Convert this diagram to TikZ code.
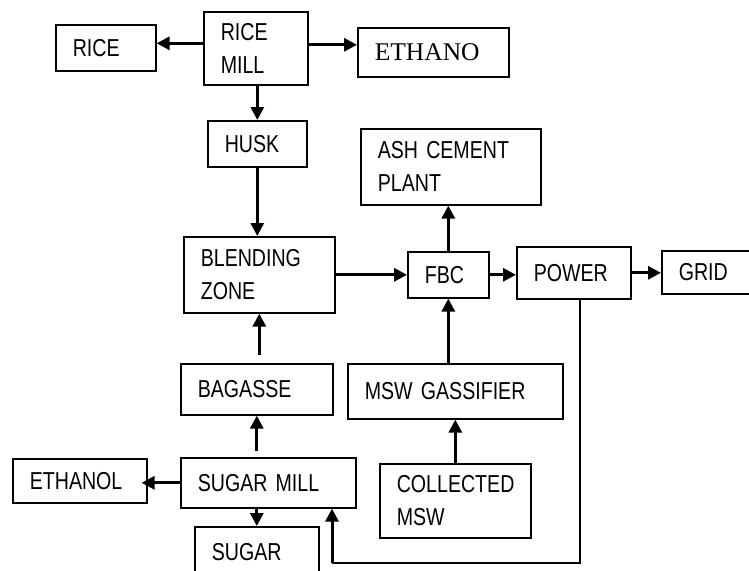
\documentclass[tikz,border=0pt]{standalone}
\usepackage{fontspec}
\setmainfont{Liberation Sans}[FakeStretch=0.8]
\newfontfamily\ethfont{Liberation Serif}
\usetikzlibrary{arrows.meta,positioning}
\tikzset{blk/.style={draw,line width=1.6pt,anchor=north west,inner xsep=17pt,inner ysep=0pt,align=left,font=\fontsize{24.5}{33}\selectfont},
  arr/.style={line width=3pt,-{Triangle[length=13pt,width=13pt]}}}

\begin{document}
\begin{tikzpicture}[x=1pt,y=-1pt]
        \useasboundingbox (0,0) rectangle (749,570);
        \clip (0,0) rectangle (749,570);

        \node[blk,text width=66pt,minimum height=46pt] (rice) at (55,24) {RICE};
        \node[blk,text width=70pt,minimum height=73pt] (ricemill) at (203,11) {RICE\\MILL};
        \node[blk,text width=117pt,minimum height=49pt,font=\ethfont\fontsize{25.5}{30}\selectfont] (ethano) at (357,27) {ETHANO};
        \node[blk,text width=65pt,minimum height=46pt] (husk) at (207,120) {HUSK};
        \node[blk,text width=146pt,minimum height=76pt] (ash) at (360,128) {ASH CEMENT\\PLANT};
        \node[blk,text width=117pt,minimum height=76pt] (blend) at (183,236) {BLENDING\\ZONE};
        \node[blk,text width=47pt,minimum height=46pt] (fbc) at (407,251) {FBC};
        \node[blk,text width=80pt,minimum height=52pt] (power) at (516,246) {POWER};
        \node[blk,text width=76pt,minimum height=43pt] (grid) at (661,250) {GRID};
        \node[blk,text width=118pt,minimum height=51pt] (bagasse) at (180,363) {BAGASSE};
        \node[blk,text width=181pt,minimum height=55pt] (gass) at (347,363) {MSW GASSIFIER};
        \node[blk,text width=141pt,minimum height=50pt] (sugarmill) at (180,457) {SUGAR MILL};
        \node[blk,text width=100pt,minimum height=44pt] (ethanol) at (12,458) {ETHANOL};
        \node[blk,text width=117pt,minimum height=74pt] (collected) at (379,463) {COLLECTED\\MSW};
        \node[blk,text width=90pt,minimum height=50pt] (sugar) at (194,526) {SUGAR};
        \coordinate (retcorner) at (332,563);

        \draw[arr] ([yshift=5pt]ricemill.west) -- ([yshift=5pt]ricemill.west -| rice.east);
        \draw[arr] ([yshift=3.5pt]ricemill.east) -- ([yshift=3.5pt]ricemill.east -| ethano.west);
        \draw[arr] (husk.north |- ricemill.south) -- (husk.north);
        \draw[arr] (husk.south) -- (husk.south |- blend.north);
        \draw[arr] (blend.east) -- (fbc.west);
        \draw[arr] (fbc.north) -- (fbc.north |- ash.south);
        \draw[arr] (fbc.east) -- (fbc.east -| power.west);
        \draw[arr] (power.east) -- (power.east -| grid.west);
        \draw[arr] (fbc.south |- gass.north) -- (fbc.south);
        \draw[arr] (collected.north) -- (collected.north |- gass.south);
        \draw[arr,shorten <=8pt] (blend.south |- bagasse.north) -- (blend.south);
        \draw[arr,shorten <=6pt] (bagasse.south |- sugarmill.north) -- (bagasse.south);
        \draw[arr,shorten >=-6pt] (sugarmill.west) -- (sugarmill.west -| ethanol.east);
        \draw[arr] (sugar.north |- sugarmill.south) -- (sugar.north);
        \draw[line width=1.5pt] ([xshift=6pt]power.south) |- (retcorner);
        \draw[arr] (retcorner) -- (retcorner |- sugarmill.south);

    \end{tikzpicture}
\end{document}
